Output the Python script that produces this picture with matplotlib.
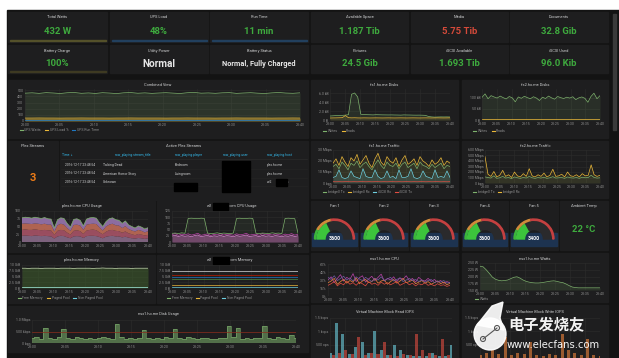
import matplotlib
matplotlib.use('Agg')
import matplotlib.pyplot as plt
import numpy as np
from matplotlib.patches import Rectangle, Wedge, Circle, Polygon

plt.rcParams['font.family'] = ['Roboto', 'DejaVu Sans']

# ---------------- data ----------------
time_labels = ['23:00', '23:05', '23:10', '23:15', '23:20', '23:25', '23:30', '23:35', '23:40']
time_ticks = [0, 5, 10, 15, 20, 25, 30, 35, 40]

stat_titles_top = ['Total Watts', 'UPS Load', 'Run Time', 'Available Space', 'Media', 'Documents']
stat_values_top = ['432 W', '48%', '11 min', '1.187 Tib', '5.75 Tib', '32.8 Gib']
stat_titles_mid = ['Battery Charge', 'Utility Power', 'Battery Status', 'Pictures', 'iSCSI Available', 'iSCSI Used']
stat_values_mid = ['100%', 'Normal', 'Normal, Fully Charged', '24.5 Gib', '1.693 Tib', '96.0 Kib']

ups_watts = [452, 458, 449, 461, 455, 447, 459, 463, 450, 456, 448, 460, 454, 446, 458, 462, 451, 457, 449, 455,
             460, 453, 447, 459, 464, 452, 456, 450, 458, 461, 449, 455, 460, 452, 447, 457, 463, 454, 450, 458]
ups_load = [48, 48, 49, 48, 48, 47, 48, 48, 49, 48, 48, 48, 47, 48, 48, 49, 48, 48, 48, 48,
            47, 48, 48, 49, 48, 48, 48, 47, 48, 48, 49, 48, 48, 48, 48, 47, 48, 48, 49, 48]
ups_runtime = [11, 11, 11, 11, 11, 11, 11, 11, 11, 11, 11, 11, 11, 11, 11, 11, 11, 11, 11, 11,
               11, 11, 11, 11, 11, 11, 11, 11, 11, 11, 11, 11, 11, 11, 11, 11, 11, 11, 11, 11]

fs1_writes = [900, 950, 1000, 980, 1050, 1100, 1200, 5800, 6100, 5200, 1300, 1250, 1200, 1180, 1150, 1200, 1180, 1160, 1150, 1140,
              1150, 1130, 1120, 1100, 1150, 1130, 1120, 1100, 1090, 1100, 1080, 1050, 800, 700, 650, 680, 700, 690, 700, 680]
fs1_reads = [450, 470, 480, 500, 520, 1000, 520, 480, 500, 470, 460, 480, 470, 460, 470, 480, 470, 460, 470, 480,
             470, 460, 470, 480, 470, 460, 470, 480, 470, 460, 470, 480, 470, 460, 470, 480, 470, 460, 470, 480]

fs2_writes = [102, 118, 96, 110, 104, 99, 108, 101, 95, 106, 100, 82, 104, 98, 107, 101, 96, 105, 99, 88,
              103, 97, 108, 100, 94, 106, 101, 97, 103, 99, 105, 92, 100, 104, 98, 80, 106, 121, 96, 110]
fs2_reads = [3, 3, 3, 3, 3, 3, 3, 3, 3, 3, 3, 3, 3, 3, 3, 3, 3, 3, 3, 3,
             3, 3, 3, 3, 3, 3, 3, 3, 3, 3, 3, 3, 3, 3, 3, 3, 3, 3, 3, 3]

fs1_b_tx = [18, 22, 16, 24, 19, 15, 23, 20, 26, 17, 21, 25, 18, 14, 22, 27, 19, 16, 24, 20,
            18, 23, 15, 21, 25, 17, 19, 22, 16, 24, 20, 18, 15, 21, 17, 19, 23, 16, 20, 18]
fs1_b_rx = [15, 17, 13, 19, 16, 12, 18, 16, 20, 14, 17, 19, 15, 12, 17, 21, 16, 13, 19, 16,
            15, 18, 13, 17, 19, 14, 16, 18, 13, 19, 16, 15, 13, 17, 14, 16, 18, 13, 16, 15]
fs1_i_rx = [5, 6, 12, 5, 4, 5, 11, 6, 5, 4, 13, 6, 5, 5, 12, 6, 4, 5, 11, 5,
            6, 4, 12, 5, 5, 6, 13, 5, 4, 5, 11, 6, 5, 4, 12, 5, 6, 5, 11, 5]
fs1_i_tx = [1.2, 1.1, 1.2, 1.1, 1.2, 1.2, 1.1, 1.2, 1.1, 1.2, 1.2, 1.1, 1.2, 1.1, 1.2, 1.2, 1.1, 1.2, 1.1, 1.2,
            1.2, 1.1, 1.2, 1.1, 1.2, 1.2, 1.1, 1.2, 1.1, 1.2, 1.2, 1.1, 1.2, 1.1, 1.2, 1.2, 1.1, 1.2, 1.1, 1.2]

fs2_b_tx = [480, 160, 120, 210, 110, 140, 230, 120, 150, 100, 200, 130, 110, 170, 120, 260, 130, 110, 150, 120,
            180, 110, 140, 250, 120, 130, 160, 110, 200, 130, 120, 150, 110, 170, 130, 140, 330, 150, 120, 140]
fs2_b_rx = [110, 100, 90, 130, 85, 95, 120, 90, 100, 80, 110, 95, 85, 100, 90, 120, 95, 85, 100, 90,
            105, 85, 95, 115, 90, 95, 100, 85, 110, 95, 90, 100, 85, 105, 95, 100, 140, 100, 90, 95]

plex_cpu_c0 = [20, 21, 20, 19, 21, 20, 19, 20, 19, 18, 11, 18, 20, 19, 15, 12, 18, 19, 18, 13,
               19, 20, 20, 19, 16, 12, 17, 19, 20, 18, 18, 15, 17, 14, 12, 11, 13, 12, 10, 12]
plex_cpu_c1 = [19, 20, 19, 20, 20, 19, 19, 19, 19, 19, 12, 18, 19, 19, 15, 12, 18, 19, 17, 13,
               18, 19, 20, 19, 15, 13, 16, 19, 19, 18, 17, 15, 17, 14, 13, 11, 13, 12, 11, 11]
plex_cpu_c2 = [20, 19, 20, 19, 19, 20, 19, 20, 18, 19, 11, 18, 20, 18, 15, 12, 19, 18, 18, 13,
               19, 19, 19, 20, 16, 12, 17, 18, 20, 18, 18, 15, 17, 14, 12, 12, 13, 12, 10, 12]
plex_cpu_c3 = [19, 20, 20, 19, 20, 19, 19, 20, 19, 18, 11, 18, 19, 20, 15, 12, 18, 19, 17, 13,
               18, 20, 20, 19, 15, 13, 16, 19, 19, 18, 17, 15, 17, 13, 13, 11, 13, 12, 11, 11]

w2_cpu_a = [35, 36, 34, 37, 35, 95, 96, 95, 94, 96, 95, 36, 34, 35, 37, 34, 36, 35, 34, 36,
            95, 96, 94, 95, 96, 95, 35, 34, 36, 35, 34, 37, 35, 36, 34, 95, 96, 95, 94, 35]
w2_cpu_b = [30, 34, 27, 32, 29, 33, 28, 31, 35, 27, 30, 33, 26, 31, 29, 34, 28, 32, 30, 27,
            33, 29, 31, 35, 28, 30, 32, 27, 34, 29, 31, 28, 33, 30, 27, 32, 29, 34, 28, 31]
w2_cpu_c = [24, 27, 22, 26, 23, 25, 21, 26, 28, 22, 24, 27, 21, 25, 23, 27, 22, 26, 24, 21,
            26, 23, 25, 28, 22, 24, 26, 21, 27, 23, 25, 22, 26, 24, 21, 25, 23, 27, 22, 25]

plex_free = [8.6, 8.6, 8.5, 8.6, 8.6, 8.6, 8.5, 8.6, 8.6, 8.6, 8.6, 8.5, 8.6, 8.6, 8.6, 8.6, 8.5, 8.6, 8.6, 8.6,
             8.6, 8.6, 8.5, 8.6, 8.6, 8.7, 8.6, 8.6, 8.6, 8.5, 8.6, 8.6, 8.6, 8.6, 8.5, 8.6, 8.6, 8.6, 8.6, 8.6]
plex_paged = [0.6, 0.6, 0.6, 0.6, 0.6, 0.6, 0.6, 0.6, 0.6, 0.6, 0.6, 0.6, 0.6, 0.6, 0.6, 0.6, 0.6, 0.6, 0.6, 0.6,
              0.6, 0.6, 0.6, 0.6, 0.6, 0.6, 0.6, 0.6, 0.6, 0.6, 0.6, 0.6, 0.6, 0.6, 0.6, 0.6, 0.6, 0.6, 0.6, 0.6]
plex_nonpaged = [0.3, 0.3, 0.3, 0.3, 0.3, 0.3, 0.3, 0.3, 0.3, 0.3, 0.3, 0.3, 0.3, 0.3, 0.3, 0.3, 0.3, 0.3, 0.3, 0.3,
                 0.3, 0.3, 0.3, 0.3, 0.3, 0.3, 0.3, 0.3, 0.3, 0.3, 0.3, 0.3, 0.3, 0.3, 0.3, 0.3, 0.3, 0.3, 0.3, 0.3]
w2_mem_levels = [7.5, 5.6, 4.6, 3.8, 1.2, 0.6]   # free memory and several flat pool lines
w2_mem_colors = ['#d8d9da', '#bf1b00', '#1f78c1', '#508642', '#eab839', '#6ed0e0']

esx_cpu_a = [30, 36, 25, 33, 40, 28, 35, 31, 42, 27, 34, 38, 26, 32, 37, 29, 35, 41, 28, 33,
             30, 36, 27, 34, 31, 38, 29, 33, 26, 35, 30, 28, 33, 27, 31, 26, 29, 24, 27, 25]
esx_cpu_b = [25, 28, 33, 22, 27, 31, 24, 29, 26, 34, 23, 28, 31, 25, 27, 33, 24, 28, 30, 22,
             27, 31, 24, 28, 33, 25, 27, 30, 23, 26, 29, 24, 27, 22, 25, 28, 23, 26, 21, 24]
esx_cpu_c = [20, 23, 27, 19, 24, 21, 28, 22, 25, 20, 26, 23, 19, 27, 22, 24, 20, 26, 22, 25,
             21, 24, 27, 20, 23, 26, 21, 24, 19, 23, 21, 25, 20, 22, 19, 23, 20, 21, 18, 20]
esx_cpu_d = [35, 31, 38, 29, 33, 37, 30, 34, 28, 36, 32, 29, 35, 31, 27, 33, 30, 36, 29, 32,
             35, 28, 31, 34, 27, 30, 33, 29, 31, 27, 30, 26, 29, 31, 25, 28, 26, 29, 24, 26]
esx_watts = [238, 236, 225, 212, 198, 190, 186, 184, 185, 187, 192, 197, 199, 194, 187, 182, 179, 177, 176, 176,
             177, 179, 181, 183, 184, 182, 179, 177, 172, 166, 161, 159, 158, 158, 158, 158, 158, 158, 158, 158]

disk_usage = [210, 260, 180, 640, 230, 190, 250, 600, 210, 180, 240, 200, 170, 230, 190, 220, 250, 200, 180, 820,
              240, 190, 210, 170, 230, 560, 200, 180, 220, 190, 240, 210, 620, 230, 190, 250, 200, 180, 210, 230,
              190, 170, 220, 200, 720, 240, 660, 190, 210, 180, 230, 200, 740, 220, 190, 250, 210, 180, 330, 200]

vm_read_a = [200, 1300, 900, 150, 400, 600, 200, 1000, 300, 100, 500, 300, 120, 90, 80, 60, 200, 80, 60, 500]
vm_read_b = [100, 200, 300, 150, 800, 100, 200, 150, 600, 100, 80, 150, 100, 900, 300, 200, 100, 700, 120, 90]

fan_names = ['Fan 1', 'Fan 2', 'Fan 3', 'Fan 4', 'Fan 5']
fan_values = [3600, 3600, 3600, 3600, 3400]
fan_max = 10000
ambient_temp = '22 °C'

table_headers = ['Time ↓', 'now_playing.stream_title', 'now_playing.player', 'now_playing.user', 'now_playing.host']
table_times = ['2016-12-17 23:48:54', '2016-12-17 23:48:54', '2016-12-17 23:48:54']
table_titles = ['Talking Dead', 'American Horror Story', 'Unknown']
table_players = ['Bedroom', 'Livingroom', '']
table_hosts = ['plex.ho.me', 'plex.ho.me', 'w2           .com']
plex_streams = '3'

# ---------------- style ----------------
W, H = 619, 358
BG = '#131313'
PANEL = '#1e1e1f'
TXT = '#cfd0d1'
TICK = '#8e8e8e'
GRID = '#2d2d2d'
GREEN = '#3eaa3e'
RED = '#d44a3a'
C_GREEN = '#7eb26d'
C_YEL = '#eab839'
C_CYAN = '#6ed0e0'
C_ORANGE = '#ef843c'
C_RED = '#e24d42'
C_BLUE = '#1f78c1'
C_PURPLE = '#ba43a9'
C_PINK = '#d683ce'

fig = plt.figure(figsize=(W / 100, H / 100), dpi=100)
fig.patch.set_facecolor('white')
renderer = fig.canvas.get_renderer()

ov = fig.add_axes([0, 0, 1, 1])
ov.set_xlim(0, W)
ov.set_ylim(H, 0)
ov.axis('off')
ov.add_patch(Rectangle((7, 10), W - 7, H - 10, color=BG, zorder=0))
ov.add_patch(Rectangle((613, 14), 3, 116, color='#3a3a3a', zorder=1))


def R(x0, y0, x1, y1):
    return [x0 / W, 1 - y1 / H, (x1 - x0) / W, (y1 - y0) / H]


def panel(x0, y0, x1, y1, title=None, ty=None):
    ov.add_patch(Rectangle((x0, y0), x1 - x0, y1 - y0, color=PANEL, zorder=1))
    if title:
        ov.text((x0 + x1) / 2, ty if ty else y0 + 5, title, color=TXT, fontsize=2.9,
                ha='center', va='center', zorder=3)


def legend(x, y, items):
    for lab, col in items:
        ov.plot([x, x + 3], [y, y], color=col, lw=0.8, zorder=3)
        t = ov.text(x + 4.5, y, lab, color=TICK, fontsize=2.5, va='center', ha='left', zorder=3)
        w = t.get_window_extent(renderer).width
        x += 4.5 + w + 4


def chart(x0, y0, x1, y1, ylim, yticks, ylabels, xlim=(0, 40), xlabels=True):
    ax = fig.add_axes(R(x0, y0, x1, y1))
    ax.set_facecolor('none')
    for s in ax.spines.values():
        s.set_visible(False)
    ax.tick_params(length=0, labelsize=2.5, colors=TICK, pad=1.2)
    ax.set_xlim(*xlim)
    ax.set_ylim(*ylim)
    ax.set_xticks(time_ticks)
    ax.set_xticklabels(time_labels if xlabels else [])
    ax.set_yticks(yticks)
    ax.set_yticklabels(ylabels)
    ax.grid(color=GRID, lw=0.4)
    ax.set_axisbelow(True)
    return ax


def series(ax, vals, col, lw=0.5, fill=0.12, x0=0, x1=40):
    x = np.linspace(x0, x1, len(vals))
    ax.plot(x, vals, color=col, lw=lw)
    if fill:
        ax.fill_between(x, vals, 0, color=col, alpha=fill, lw=0)


# ---------------- single stats ----------------
cols = [(8, 107), (110, 208), (210, 308), (311, 408), (411, 508), (510, 608)]
for i, (a, b) in enumerate(cols):
    panel(a, 12, b, 42, stat_titles_top[i], ty=17)
    col = RED if stat_values_top[i] == '5.75 Tib' else GREEN
    ov.text((a + b) / 2, 32, stat_values_top[i], color=col, fontsize=6.8, fontweight='bold',
            ha='center', va='center', zorder=3)
    panel(a, 45, b, 73, stat_titles_mid[i], ty=51)
    v = stat_values_mid[i]
    if v.startswith('Normal'):
        col, fs = '#e6e6e6', (7.2 if v == 'Normal' else 5.3)
    else:
        col, fs = GREEN, 6.8
    ov.text((a + b) / 2, 64, v, color=col, fontsize=fs, fontweight='bold', ha='center', va='center', zorder=3)
ov.add_patch(Rectangle((10, 39.5), 96, 1.6, color='#54512a', zorder=2))
ov.add_patch(Rectangle((112, 39.5), 95, 1.6, color='#22405e', zorder=2))
ov.add_patch(Rectangle((212, 39.5), 95, 1.6, color='#22405e', zorder=2))
ov.add_patch(Rectangle((10, 71), 96, 1.2, color='#3e3a22', zorder=2))

# ---------------- combined view ----------------
panel(8, 80, 308, 138, 'Combined View', ty=85)
ax = chart(25, 89, 300, 121, (0, 520), [0, 100, 200, 300, 400, 500], ['0', '100', '200', '300', '400', '500'])
series(ax, ups_watts, C_GREEN, fill=0.15)
series(ax, ups_load, C_YEL, fill=0.45)
series(ax, ups_runtime, C_BLUE, fill=0.2)
legend(20, 130, [('UPS Watts', C_GREEN), ('UPS Load %', C_YEL), ('UPS Run Time', C_BLUE)])

# ---------------- fs disks ----------------
panel(311, 80, 458, 138, 'fs1.ho.me Disks', ty=85)
ax = chart(330, 89, 450, 120, (0, 7000), [0, 2000, 4000, 6000], ['0 B', '2.0 kB', '4.0 kB', '6.0 kB'])
series(ax, fs1_writes, C_GREEN)
series(ax, fs1_reads, C_YEL)
legend(323, 131, [('Writes', C_GREEN), ('Reads', C_YEL)])

panel(462, 80, 608, 138, 'fs2.ho.me Disks', ty=85)
ax = chart(482, 89, 600, 120, (0, 140), [0, 50, 100], ['0 B', '50 kB', '100 kB'])
series(ax, fs2_writes, C_GREEN)
series(ax, fs2_reads, C_YEL)
legend(473, 131, [('Writes', C_GREEN), ('Reads', C_YEL)])

# ---------------- plex streams + table ----------------
panel(8, 141, 58, 200, 'Plex Streams', ty=146)
ov.text(33, 178, plex_streams, color='#eb7b18', fontsize=8, fontweight='bold', ha='center', va='center', zorder=3)
panel(60, 141, 308, 200, 'Active Plex Streams', ty=146)
hx = [62, 115, 175, 223, 267]
for x, t in zip(hx, table_headers):
    ov.text(x, 155, t, color='#33b5e5', fontsize=2.4, ha='left', va='center', zorder=3)
ov.plot([61, 307], [158.5, 158.5], color='#2f2f2f', lw=0.4, zorder=2)
ry = [165, 173.5, 182]
for i in range(3):
    ov.text(65, ry[i], table_times[i], color=TXT, fontsize=2.3, ha='left', va='center', zorder=3)
    ov.text(103, ry[i], table_titles[i], color=TXT, fontsize=2.4, ha='left', va='center', zorder=3)
    ov.text(175, ry[i], table_players[i], color=TXT, fontsize=2.4, ha='left', va='center', zorder=3)
    ov.text(267, ry[i], table_hosts[i], color=TXT, fontsize=2.4, ha='left', va='center', zorder=3)
    ov.plot([61, 307], [ry[i] + 4.2, ry[i] + 4.2], color='#262626', lw=0.4, zorder=2)
ov.add_patch(Rectangle((222, 161), 28, 31, color='black', zorder=4))
ov.add_patch(Rectangle((174, 183), 23, 8, color='black', zorder=4))
ov.add_patch(Rectangle((276, 178.5), 11, 7.5, color='black', zorder=4))

# ---------------- traffic ----------------
panel(311, 141, 458, 198, 'fs1.ho.me Traffic', ty=146)
ax = chart(333, 150, 450, 183, (0, 30), [0, 10, 20, 30], ['0 bps', '10 Mbps', '20 Mbps', '30 Mbps'])
series(ax, fs1_b_tx, C_YEL, fill=0.08)
series(ax, fs1_b_rx, C_GREEN, fill=0.08)
series(ax, fs1_i_rx, C_CYAN, fill=0.15)
series(ax, fs1_i_tx, C_RED, fill=0)
legend(323, 192, [('bridge0 Tx', C_GREEN), ('bridge0 Rx', C_YEL), ('iSCSI Rx', C_CYAN), ('iSCSI Tx', C_RED)])

panel(462, 141, 608, 198, 'fs2.ho.me Traffic', ty=146)
ax = chart(485, 150, 600, 183, (0, 600), [0, 100, 200, 300, 400, 500, 600],
           ['0 bps', '100 Mbps', '200 Mbps', '300 Mbps', '400 Mbps', '500 Mbps', '600 Mbps'])
series(ax, fs2_b_tx, C_YEL, fill=0.08)
series(ax, fs2_b_rx, C_GREEN, fill=0.08)
legend(473, 192, [('bridge0 Tx', C_GREEN), ('bridge0 Rx', C_YEL)])

# ---------------- CPU usage ----------------
panel(8, 201, 155, 252, 'plex.ho.me CPU Usage', ty=206)
ax = chart(22, 211, 148, 242, (0, 100), [0, 25, 50, 75, 100], ['0', '25', '50', '75', '100'])
xs = np.linspace(0, 40, len(plex_cpu_c0))
ax.stackplot(xs, plex_cpu_c0, plex_cpu_c1, plex_cpu_c2, plex_cpu_c3,
             colors=['#8f6f8f', '#b0566b', '#c9705a', '#a07ab8'], alpha=0.85, lw=0)
ax.plot(xs, np.array(plex_cpu_c0) + plex_cpu_c1 + np.array(plex_cpu_c2) + plex_cpu_c3, color=C_GREEN, lw=0.5)

panel(157, 201, 308, 252, None)
ov.text(212, 206, 'w2', color=TXT, fontsize=2.9, ha='right', va='center', zorder=3)
ov.add_patch(Rectangle((213, 203), 15, 7, color='black', zorder=4))
ov.text(228, 206, 'com CPU Usage', color=TXT, fontsize=2.9, ha='left', va='center', zorder=3)
ax = chart(172, 211, 298, 242, (0, 125), [0, 25, 50, 75, 100, 125], ['0', '25', '50', '75', '100', '125'])
series(ax, w2_cpu_c, C_PINK, fill=0.35)
series(ax, w2_cpu_b, C_PURPLE, fill=0.2)
series(ax, w2_cpu_a, C_GREEN, fill=0.08)

# ---------------- fans ----------------
fan_cols = [(311, 358), (360, 408), (410, 458), (462, 508), (510, 558)]
for (a, b), name, val in zip(fan_cols, fan_names, fan_values):
    panel(a, 201, b, 250, name, ty=206)
    ov.add_patch(Rectangle((a + 1, 233), b - a - 2, 13, color='#1d3350', zorder=2))
    cx, cy = (a + b) / 2, 239
    frac = val / fan_max
    ang = 180 - 180 * frac
    ov.add_patch(Wedge((cx, cy), 17.5, -180, -ang, width=8, color='#3cc43c', zorder=3))
    ov.add_patch(Wedge((cx, cy), 17.5, -ang, 0, width=8, color='#2a2a2c', zorder=3))
    ov.add_patch(Wedge((cx, cy), 20, -180, -150, width=1.3, color='#3cb43c', zorder=3))
    ov.add_patch(Wedge((cx, cy), 20, -150, -100, width=1.3, color='#d08a3a', zorder=3))
    ov.add_patch(Wedge((cx, cy), 20, -100, 0, width=1.3, color='#c44040', zorder=3))
    ov.text(cx, cy, str(val), color='white', fontsize=3.8, fontweight='bold', ha='center', va='center', zorder=5)
panel(560, 201, 608, 250, 'Ambient Temp', ty=206)
ov.text(584, 230, ambient_temp, color=GREEN, fontsize=6.8, fontweight='bold', ha='center', va='center', zorder=3)

# ---------------- memory ----------------
panel(8, 255, 155, 303, 'plex.ho.me Memory', ty=260)
ax = chart(22, 265, 148, 288, (0, 10), [0, 2.5, 5, 7.5, 10], ['0 B', '2.5 GiB', '5 GiB', '7.5 GiB', '10 GiB'])
series(ax, plex_free, '#c8e0b0', fill=0.0)
ax.fill_between(np.linspace(0, 40, len(plex_free)), plex_free, 0, color='#3d5a2c', alpha=0.6, lw=0)
series(ax, plex_paged, C_YEL, fill=0)
series(ax, plex_nonpaged, C_CYAN, fill=0)
legend(18, 298, [('Free Memory', C_GREEN), ('Paged Pool', C_YEL), ('Non Paged Pool', C_CYAN)])

panel(157, 255, 308, 303, None)
ov.text(212, 260, 'w2', color=TXT, fontsize=2.9, ha='right', va='center', zorder=3)
ov.add_patch(Rectangle((213, 257), 16, 7, color='black', zorder=4))
ov.text(229, 260, 'com Memory', color=TXT, fontsize=2.9, ha='left', va='center', zorder=3)
ax = chart(172, 265, 298, 288, (0, 10), [0, 2.5, 5, 7.5, 10], ['0 B', '2.5 GiB', '5 GiB', '7.5 GiB', '10 GiB'])
for lvl, c in zip(w2_mem_levels, w2_mem_colors):
    ax.plot([0, 40], [lvl, lvl], color=c, lw=0.5)
legend(167, 298, [('Free Memory', C_GREEN), ('Paged Pool', C_YEL), ('Non Paged Pool', C_CYAN)])

# ---------------- esx1 cpu / watts ----------------
panel(311, 253, 458, 302, 'esx1.ho.me CPU', ty=259)
ax = chart(328, 264, 450, 296, (0, 60), [0, 15, 30, 45, 60], ['0%', '15%', '30%', '45%', '60%'])
series(ax, esx_cpu_a, C_PURPLE, fill=0)
series(ax, esx_cpu_b, C_ORANGE, fill=0)
series(ax, esx_cpu_c, C_RED, fill=0)
series(ax, esx_cpu_d, '#705da0', fill=0)

panel(462, 253, 608, 302, 'esx1.ho.me Watts', ty=259)
ax = chart(480, 263, 600, 290, (150, 250), [150, 175, 200, 225, 250], ['150 W', '175 W', '200 W', '225 W', '250 W'])
x = np.linspace(0, 40, len(esx_watts))
ax.plot(x, esx_watts, color=C_GREEN, lw=0.5)
ax.fill_between(x, esx_watts, 150, color=C_GREEN, alpha=0.15, lw=0)
legend(475, 299, [('Watts', C_GREEN)])

# ---------------- disk usage ----------------
panel(8, 306, 308, 352, 'esx1.ho.me Disk Usage', ty=314)
ax = chart(32, 320, 296, 343, (0, 1000), [0, 500, 1000], ['0 bps', '500 kbps', '1.0 Mbps'])
x = np.linspace(0, 40, len(disk_usage))
ax.fill_between(x, disk_usage, 0, color=C_GREEN, alpha=0.55, lw=0, step='mid')
ax.step(x, disk_usage, where='mid', color=C_GREEN, lw=0.4)
ax.axhline(500, color='#8a2a1a', lw=0.5)
ax.axhline(8, color=C_ORANGE, lw=0.6)

# ---------------- VM IOPS ----------------
panel(311, 305, 458, 358, 'Virtual Machine Block Read IOPS', ty=312)
ax = chart(330, 318, 452, 358, (0, 1500), [500, 1000, 1500], ['500 ops', '1 kops', '1.5 kops'], xlabels=False)
x = np.linspace(0, 40, len(vm_read_a))
ax.bar(x, vm_read_a, width=1.0, color=C_CYAN, alpha=0.6)
ax.bar(x + 1, vm_read_b, width=1.0, color=C_RED, alpha=0.6)
panel(462, 305, 608, 358, 'Virtual Machine Block Write IOPS', ty=312)
ax = chart(480, 318, 600, 358, (0, 1500), [500, 1000, 1500], ['500 ops', '1 kops', '1.5 kops'], xlabels=False)
ax.bar(x, vm_read_b, width=1.0, color=C_ORANGE, alpha=0.6)

# ---------------- watermark ----------------
wm = fig.add_axes([0, 0, 1, 1], zorder=20)
wm.set_xlim(0, W)
wm.set_ylim(H, 0)
wm.axis('off')
wm.add_patch(Circle((490, 334), 16, color='white', alpha=0.92))
wm.add_patch(Polygon([[477, 325], [492, 306], [503, 302], [500, 318], [504, 330]], color='white', alpha=0.92))
wm.plot([483, 497], [339, 328], color='#555', lw=0.8)
wm.add_patch(Circle((483, 339), 2.5, fill=False, ec='#555', lw=0.8))
wm.add_patch(Circle((497, 328), 2.5, fill=False, ec='#555', lw=0.8))
wm.text(508, 324, '电子发烧友', color='white', alpha=0.95, fontsize=11, fontweight='bold',
        family=['Noto Sans CJK SC', 'DejaVu Sans'], ha='left', va='center')
wm.text(507, 345, 'www.elecfans.com', color='white', alpha=0.95, fontsize=7.2,
        family=['DejaVu Sans'], ha='left', va='center')

fig.savefig('out.png', dpi=100, facecolor=fig.get_facecolor())
